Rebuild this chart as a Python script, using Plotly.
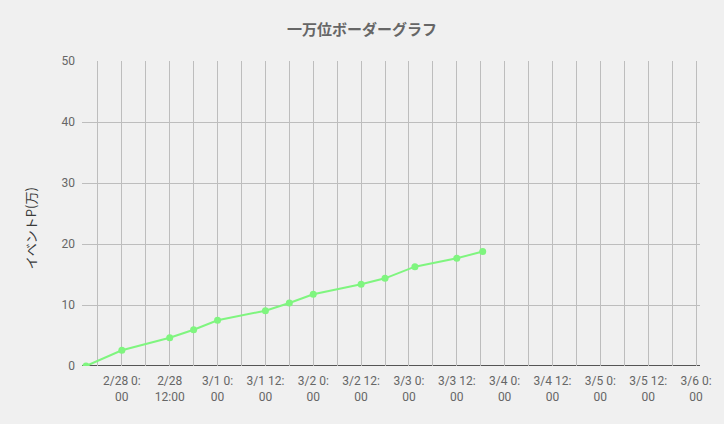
import plotly.graph_objects as go

# border data (event points, in 10k)
times = [
    "2023-02-27 15:00", "2023-02-28 00:00", "2023-02-28 12:00", "2023-02-28 18:00",
    "2023-03-01 00:00", "2023-03-01 12:00", "2023-03-01 18:00", "2023-03-02 00:00",
    "2023-03-02 12:00", "2023-03-02 18:00", "2023-03-03 01:30", "2023-03-03 12:00",
    "2023-03-03 18:30",
]
points = [0, 2.57, 4.64, 5.95, 7.49, 9.07, 10.33, 11.75, 13.39, 14.37, 16.28, 17.65, 18.77]

# grid every 6h, label every 12h
grid_times = [
    "2023-02-27 18:00",
    "2023-02-28 00:00", "2023-02-28 06:00", "2023-02-28 12:00", "2023-02-28 18:00",
    "2023-03-01 00:00", "2023-03-01 06:00", "2023-03-01 12:00", "2023-03-01 18:00",
    "2023-03-02 00:00", "2023-03-02 06:00", "2023-03-02 12:00", "2023-03-02 18:00",
    "2023-03-03 00:00", "2023-03-03 06:00", "2023-03-03 12:00", "2023-03-03 18:00",
    "2023-03-04 00:00", "2023-03-04 06:00", "2023-03-04 12:00", "2023-03-04 18:00",
    "2023-03-05 00:00", "2023-03-05 06:00", "2023-03-05 12:00", "2023-03-05 18:00",
    "2023-03-06 00:00",
]
grid_labels = [
    "",
    "2/28 0:<br>00", "", "2/28<br>12:00", "",
    "3/1 0:<br>00", "", "3/1 12:<br>00", "",
    "3/2 0:<br>00", "", "3/2 12:<br>00", "",
    "3/3 0:<br>00", "", "3/3 12:<br>00", "",
    "3/4 0:<br>00", "", "3/4 12:<br>00", "",
    "3/5 0:<br>00", "", "3/5 12:<br>00", "",
    "3/6 0:<br>00",
]

fig = go.Figure()
fig.add_trace(go.Scatter(
    x=times,
    y=points,
    mode="lines+markers",
    line=dict(color="#7ff57f", width=2),
    marker=dict(color="#7ff57f", size=7),
    showlegend=False,
))

fig.update_layout(
    width=724,
    height=424,
    margin=dict(l=82, r=22, t=61, b=58),
    paper_bgcolor="#f0f0f0",
    plot_bgcolor="#f0f0f0",
    font=dict(family="Roboto, Noto Sans CJK JP, sans-serif", color="#666666", size=12),
    title=dict(
        text="<b>一万位ボーダーグラフ</b>",
        x=0.5,
        xanchor="center",
        y=1 - 30 / 424,
        yanchor="middle",
        font=dict(size=15, color="#666666", family="Noto Sans CJK JP, sans-serif"),
    ),
    xaxis=dict(
        type="date",
        range=["2023-02-27 14:00", "2023-03-06 01:00"],
        tickmode="array",
        tickvals=grid_times,
        ticktext=grid_labels,
        showgrid=True,
        gridcolor="#bdbdbd",
        gridwidth=1,
        ticks="",
        showline=False,
        zeroline=False,
        tickfont=dict(size=12, color="#666666"),
        ticklabelstandoff=6,
    ),
    yaxis=dict(
        range=[0, 50],
        dtick=10,
        showgrid=True,
        gridcolor="#bdbdbd",
        gridwidth=1,
        zeroline=False,
        showline=False,
        ticks="",
        tickfont=dict(size=12, color="#666666"),
        ticklabelstandoff=6,
    ),
    # y axis title sits a little below centre in the original, so place it by hand
    annotations=[dict(
        text="イベントP(万)",
        xref="paper", yref="paper",
        x=(30 - 82) / 620, y=(366 - 228) / 305,
        xanchor="center", yanchor="middle",
        textangle=-90,
        showarrow=False,
        font=dict(size=13, color="#3a3a3a", family="Noto Sans CJK JP, sans-serif"),
    )],
    shapes=[dict(
        type="line", xref="paper", yref="y",
        x0=0, x1=1, y0=0, y1=0,
        line=dict(color="#222222", width=1.5),
        layer="below",
    )],
)

# drop the default body margin so the chart fills the window
fig.write_html(
    "out.html",
    config={"displayModeBar": False},
    post_script="document.body.style.margin='0';document.body.style.background='#f0f0f0';",
)
